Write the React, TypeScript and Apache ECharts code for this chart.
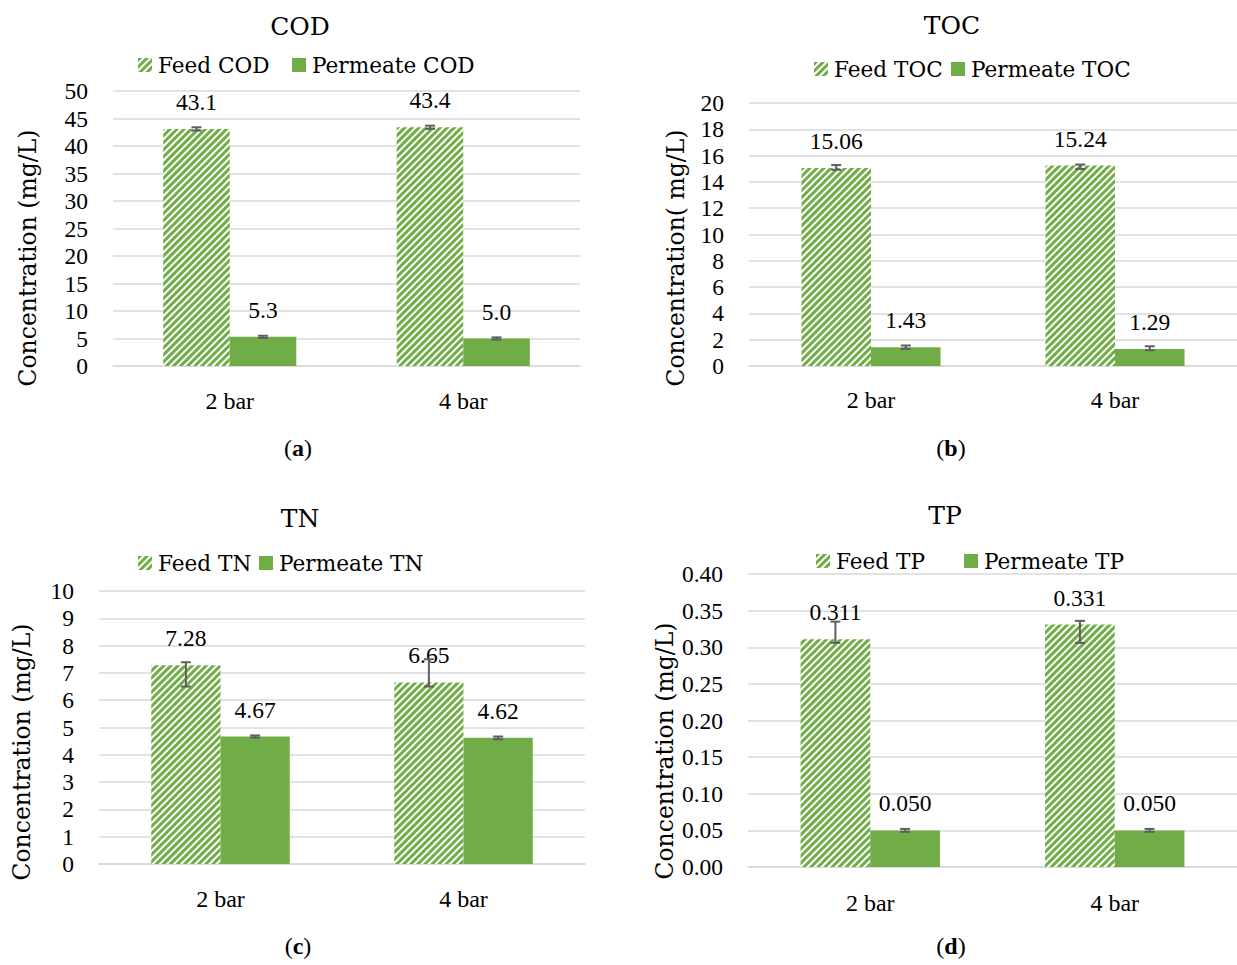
import { useEffect, useRef } from 'react';
import * as echarts from 'echarts';

// Shared categories (operating pressure)
const categories = ['2 bar', '4 bar'];

// COD (mg/L)
const codFeed = [43.1, 43.4];
const codPermeate = [5.3, 5.0];
const codFeedLow = [42.8, 43.1];
const codFeedHigh = [43.4, 43.7];
const codPermeateLow = [5.1, 4.8];
const codPermeateHigh = [5.5, 5.2];

// TOC (mg/L)
const tocFeed = [15.06, 15.24];
const tocPermeate = [1.43, 1.29];
const tocFeedLow = [14.92, 14.98];
const tocFeedHigh = [15.28, 15.32];
const tocPermeateLow = [1.3, 1.2];
const tocPermeateHigh = [1.56, 1.5];

// TN (mg/L)
const tnFeed = [7.28, 6.65];
const tnPermeate = [4.67, 4.62];
const tnFeedLow = [6.5, 6.5];
const tnFeedHigh = [7.39, 7.5];
const tnPermeateLow = [4.63, 4.57];
const tnPermeateHigh = [4.71, 4.67];

// TP (mg/L)
const tpFeed = [0.311, 0.331];
const tpPermeate = [0.05, 0.05];
const tpFeedLow = [0.306, 0.306];
const tpFeedHigh = [0.335, 0.336];
const tpPermeateLow = [0.048, 0.048];
const tpPermeateHigh = [0.052, 0.052];

// Axis ranges and tick steps
const yMax = [50, 20, 10, 0.4];
const yStep = [5, 2, 1, 0.05];
const tickDecimals = [0, 0, 0, 2];
const labelDecimals = [1, 2, 2, 3];

const panelTitles = ['COD', 'TOC', 'TN', 'TP'];
const panelLetters = ['a', 'b', 'c', 'd'];
const feedNames = ['Feed COD', 'Feed TOC', 'Feed TN', 'Feed TP'];
const permeateNames = ['Permeate COD', 'Permeate TOC', 'Permeate TN', 'Permeate TP'];
const axisNames = [
  'Concentration (mg/L)',
  'Concentration( mg/L)',
  'Concentration (mg/L)',
  'Concentration (mg/L)',
];

const feedValues = [codFeed, tocFeed, tnFeed, tpFeed];
const permeateValues = [codPermeate, tocPermeate, tnPermeate, tpPermeate];
const feedLow = [codFeedLow, tocFeedLow, tnFeedLow, tpFeedLow];
const feedHigh = [codFeedHigh, tocFeedHigh, tnFeedHigh, tpFeedHigh];
const permeateLow = [codPermeateLow, tocPermeateLow, tnPermeateLow, tpPermeateLow];
const permeateHigh = [codPermeateHigh, tocPermeateHigh, tnPermeateHigh, tpPermeateHigh];

// Layout of the four panels (pixels)
const layout = [
  { left: 113, top: 91, width: 467, height: 275, nameX: 28, nameY: 258, titleX: 300, titleY: 26, feedLeg: [138, 65], permLeg: [292, 65], capX: 298, capY: 448, catMargin: 23 },
  { left: 749, top: 103, width: 492, height: 263, nameX: 676, nameY: 258, titleX: 952, titleY: 25, feedLeg: [814, 69], permLeg: [951, 69], capX: 951, capY: 448, catMargin: 22 },
  { left: 99, top: 591, width: 486, height: 273, nameX: 22, nameY: 752, titleX: 300, titleY: 518, feedLeg: [138, 563], permLeg: [259, 563], capX: 298, capY: 946, catMargin: 23 },
  { left: 748, top: 574, width: 503, height: 293, nameX: 665, nameY: 751, titleX: 945, titleY: 515, feedLeg: [816, 561], permLeg: [964, 561], capX: 951, capY: 946, catMargin: 24 },
];

// Numbers use a narrow serif, words a wider one
const NUM_FONT = "'Liberation Serif', 'Times New Roman', serif";
const WORD_FONT = "'DejaVu Serif', 'Liberation Serif', serif";
const NUM_SIZE = 23.5;
const WORD_SIZE = 21.6;
const GREEN = '#70ad47';
const GRID_GRAY = '#d9d9d9';
const ERR_GRAY = '#5f5f5f';
const CATEGORY_GAP = 0.43;

const stripes = {
  symbol: 'rect',
  symbolSize: 1,
  color: GREEN,
  dashArrayX: [1, 0],
  dashArrayY: [2.3, 1.9],
  rotation: -Math.PI / 4,
};

function errorRenderer(side: number) {
  return (params: any, api: any) => {
    const idx = api.value(0);
    const lo = api.coord([idx, api.value(1)]);
    const hi = api.coord([idx, api.value(2)]);
    const band = api.size([1, 0])[0];
    const barW = (band * (1 - CATEGORY_GAP)) / 2;
    const cx = lo[0] + (side * barW) / 2;
    const cap = 5;
    const style = { stroke: ERR_GRAY, lineWidth: 2 };
    return {
      type: 'group',
      children: [
        { type: 'line', shape: { x1: cx, y1: lo[1], x2: cx, y2: hi[1] }, style },
        { type: 'line', shape: { x1: cx - cap, y1: lo[1], x2: cx + cap, y2: lo[1] }, style },
        { type: 'line', shape: { x1: cx - cap, y1: hi[1], x2: cx + cap, y2: hi[1] }, style },
      ],
    };
  };
}

function buildOption() {
  const numStyle = { fontFamily: NUM_FONT, fontSize: NUM_SIZE, color: '#000' };
  const wordStyle = { fontFamily: WORD_FONT, fontSize: WORD_SIZE, color: '#000' };

  const grid = layout.map((l) => ({ left: l.left, top: l.top, width: l.width, height: l.height }));

  const xAxis = layout.map((l, i) => ({
    type: 'category',
    gridIndex: i,
    data: categories,
    axisTick: { show: false },
    axisLine: { lineStyle: { color: GRID_GRAY, width: 1.5 } },
    axisLabel: { ...numStyle, fontSize: 24, margin: l.catMargin },
  }));

  const yAxis = layout.map((l, i) => ({
    type: 'value',
    gridIndex: i,
    min: 0,
    max: yMax[i],
    interval: yStep[i],
    axisLine: { show: false },
    axisTick: { show: false },
    splitLine: { lineStyle: { color: GRID_GRAY, width: 1.5 } },
    axisLabel: {
      ...numStyle,
      margin: 25,
      formatter: (v: number) => v.toFixed(tickDecimals[i]),
    },
  }));

  const series: any[] = [];
  layout.forEach((l, i) => {
    const label = {
      show: true,
      position: 'top',
      distance: 15,
      ...numStyle,
      formatter: (p: any) => Number(p.value).toFixed(labelDecimals[i]),
    };
    series.push({
      type: 'bar',
      name: feedNames[i],
      xAxisIndex: i,
      yAxisIndex: i,
      data: feedValues[i],
      barGap: '0%',
      barCategoryGap: `${CATEGORY_GAP * 100}%`,
      itemStyle: { color: '#ffffff', decal: stripes },
      label,
    });
    series.push({
      type: 'bar',
      name: permeateNames[i],
      xAxisIndex: i,
      yAxisIndex: i,
      data: permeateValues[i],
      barGap: '0%',
      barCategoryGap: `${CATEGORY_GAP * 100}%`,
      itemStyle: { color: GREEN },
      label,
    });
    series.push({
      type: 'custom',
      name: feedNames[i] + ' error',
      xAxisIndex: i,
      yAxisIndex: i,
      z: 5,
      encode: { x: 0, y: [1, 2] },
      data: categories.map((_, k) => [k, feedLow[i][k], feedHigh[i][k]]),
      renderItem: errorRenderer(-1),
    });
    series.push({
      type: 'custom',
      name: permeateNames[i] + ' error',
      xAxisIndex: i,
      yAxisIndex: i,
      z: 5,
      encode: { x: 0, y: [1, 2] },
      data: categories.map((_, k) => [k, permeateLow[i][k], permeateHigh[i][k]]),
      renderItem: errorRenderer(1),
    });
  });

  const legend: any[] = [];
  layout.forEach((l, i) => {
    const common = {
      orient: 'horizontal',
      padding: 0,
      itemGap: 0,
      itemWidth: 14,
      itemHeight: 14,
      icon: 'rect',
      textStyle: { ...wordStyle, lineHeight: 24, padding: [0, 0, 0, 1] },
    };
    legend.push({ ...common, data: [feedNames[i]], left: l.feedLeg[0], top: l.feedLeg[1] - 12 });
    legend.push({ ...common, data: [permeateNames[i]], left: l.permLeg[0], top: l.permLeg[1] - 12 });
  });

  const graphic: any[] = [];
  layout.forEach((l, i) => {
    graphic.push({
      type: 'text',
      x: l.titleX,
      y: l.titleY,
      style: {
        text: panelTitles[i],
        fontFamily: WORD_FONT,
        fontSize: 25,
        fill: '#000',
        align: 'center',
        verticalAlign: 'middle',
      },
    });
    // Vertical axis title
    graphic.push({
      type: 'text',
      x: l.nameX,
      y: l.nameY,
      rotation: Math.PI / 2,
      style: {
        text: axisNames[i],
        fontFamily: WORD_FONT,
        fontSize: 23.5,
        fill: '#000',
        align: 'center',
        verticalAlign: 'middle',
      },
    });
    graphic.push({
      type: 'text',
      x: l.capX,
      y: l.capY,
      style: {
        text: `({b|${panelLetters[i]}})`,
        fontFamily: NUM_FONT,
        fontSize: 24,
        fill: '#000',
        align: 'center',
        verticalAlign: 'middle',
        rich: { b: { fontFamily: NUM_FONT, fontSize: 24, fontWeight: 'bold', fill: '#000' } },
      },
    });
  });

  return {
    animation: false,
    backgroundColor: '#ffffff',
    grid,
    xAxis,
    yAxis,
    legend,
    series,
    graphic,
  };
}

export default function App() {
  const ref = useRef<HTMLDivElement>(null);

  useEffect(() => {
    if (!ref.current) return;
    const chart = echarts.init(ref.current, undefined, { renderer: 'svg' });
    chart.setOption(buildOption() as any);
    return () => chart.dispose();
  }, []);

  return (
    <div
      ref={ref}
      style={{ position: 'absolute', left: 0, top: 0, width: 1237, height: 965, background: '#fff' }}
    />
  );
}
